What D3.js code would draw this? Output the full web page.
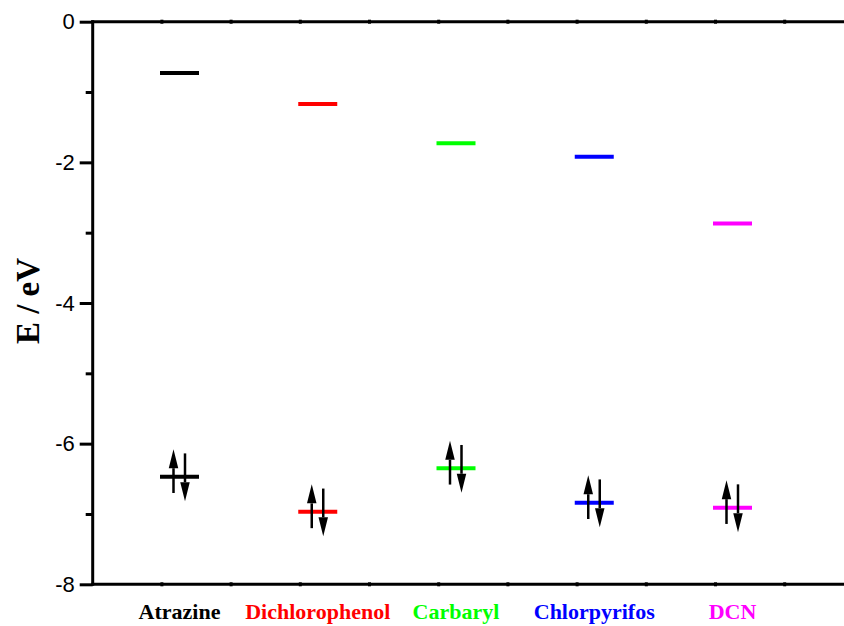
<!DOCTYPE html>
<html>
<head>
<meta charset="utf-8">
<script src="https://cdn.jsdelivr.net/npm/d3@7"></script>
<style>
  html, body { margin: 0; padding: 0; background: #fff; }
  svg { display: block; }
</style>
</head>
<body>
<svg id="chart" width="844" height="626"></svg>
<script>
// Frontier orbital energies (eV) of each molecule
const categories = ["Atrazine", "Dichlorophenol", "Carbaryl", "Chlorpyrifos", "DCN"];
const lumo = [-0.73, -1.17, -1.73, -1.92, -2.87];
const homo = [-6.47, -6.97, -6.35, -6.84, -6.91];
const colors = ["#000000", "#ff0000", "#00ff00", "#0000ff", "#ff00ff"];
const yMajorTicks = [0, -2, -4, -6, -8];
const yMinorTicks = [-1, -3, -5, -7];
const frameTicks = [1, 2, 3, 4, 5, 6, 7, 8, 9, 10, 11];

const svg = d3.select("#chart");
const plotLeft = 92.7, plotTop = 21.7, plotBottom = 584.3, plotRight = 844;

const y = d3.scaleLinear().domain([0, -8]).range([plotTop, plotBottom]);
const xFrame = d3.scaleLinear().domain([0, 11]).range([plotLeft, plotLeft + 11 * 69.2]);
const x = d3.scalePoint().domain(categories).range([179.5, 732.5]);

// Top and bottom frame lines with small tick nubs
[plotTop, plotBottom].forEach(yy => {
  svg.append("line")
    .attr("x1", plotLeft - 1.5).attr("x2", plotRight)
    .attr("y1", yy).attr("y2", yy)
    .attr("stroke", "#000").attr("stroke-width", 3);
  svg.append("g").selectAll("rect")
    .data(frameTicks.filter(t => xFrame(t) < plotRight))
    .join("rect")
    .attr("x", d => xFrame(d) - 1.5)
    .attr("y", yy - 2)
    .attr("width", 3)
    .attr("height", 4)
    .attr("fill", "#000");
});

// Left energy axis
const yAxis = d3.axisLeft(y).tickValues(yMajorTicks).tickSize(13).tickPadding(5)
  .tickFormat(d => d === 0 ? "0" : "-" + Math.abs(d));
const gy = svg.append("g").attr("transform", `translate(${plotLeft},0)`).call(yAxis);
gy.select(".domain").remove();
gy.selectAll(".tick line").attr("stroke", "#000").attr("stroke-width", 3);
gy.selectAll(".tick text")
  .attr("font-family", "'Liberation Sans', Arial, sans-serif")
  .attr("font-size", 22).attr("fill", "#000");

const yMinor = d3.axisLeft(y).tickValues(yMinorTicks).tickSize(7).tickFormat("");
const gm = svg.append("g").attr("transform", `translate(${plotLeft},0)`).call(yMinor);
gm.select(".domain").remove();
gm.selectAll(".tick line").attr("stroke", "#000").attr("stroke-width", 3);

svg.append("line")
  .attr("x1", plotLeft).attr("x2", plotLeft)
  .attr("y1", plotTop - 1.5).attr("y2", plotBottom + 1.5)
  .attr("stroke", "#000").attr("stroke-width", 3);

// Axis title
svg.append("text")
  .attr("transform", `translate(39,301) rotate(-90)`)
  .attr("text-anchor", "middle")
  .attr("font-family", "'Liberation Serif', 'Times New Roman', serif")
  .attr("font-weight", "bold")
  .attr("font-size", 33)
  .attr("fill", "#000")
  .text("E / eV");

// Energy levels
const halfW = 19.5;
const levels = svg.append("g");
categories.forEach((c, i) => {
  [lumo[i], homo[i]].forEach(v => {
    levels.append("line")
      .attr("x1", x(c) - halfW).attr("x2", x(c) + halfW)
      .attr("y1", y(v)).attr("y2", y(v))
      .attr("stroke", colors[i]).attr("stroke-width", 4);
  });
});

// Paired electron spins on each HOMO
const headLen = 19, headW = 9.5;
function arrow(g, ax, y0, y1) {
  const dir = y1 < y0 ? -1 : 1;
  const base = y1 - dir * headLen;
  g.append("line")
    .attr("x1", ax).attr("x2", ax)
    .attr("y1", y0).attr("y2", base)
    .attr("stroke", "#000").attr("stroke-width", 2.5);
  g.append("path")
    .attr("d", `M${ax},${y1} L${ax - headW / 2},${base} L${ax + headW / 2},${base} Z`)
    .attr("fill", "#000");
}
const spins = svg.append("g");
categories.forEach((c, i) => {
  const cx = x(c), cy = y(homo[i]);
  arrow(spins, cx - 6, cy + 16.3, cy - 27.5);
  arrow(spins, cx + 5.5, cy - 23.3, cy + 24.5);
});

// Molecule names under the axis
svg.append("g").selectAll("text")
  .data(categories)
  .join("text")
  .attr("x", d => x(d))
  .attr("y", 619)
  .attr("text-anchor", "middle")
  .attr("font-family", "'Liberation Serif', 'Times New Roman', serif")
  .attr("font-weight", "bold")
  .attr("font-size", 22)
  .attr("fill", (d, i) => colors[i])
  .text(d => d);
</script>
</body>
</html>
